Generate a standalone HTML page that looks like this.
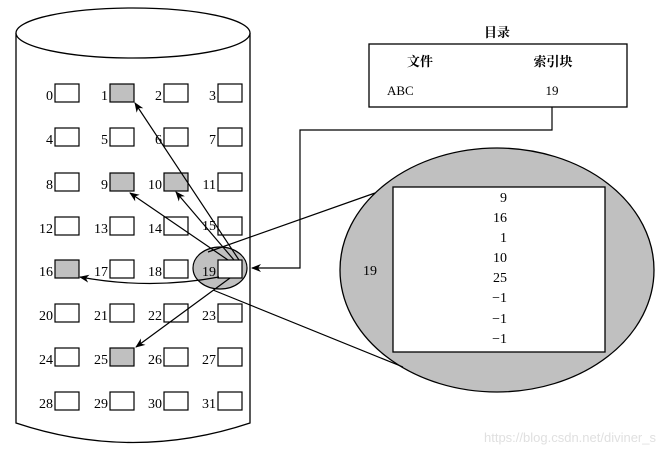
<!DOCTYPE html>
<html><head><meta charset="utf-8"><style>body{margin:0;background:#fff}svg{display:block}text{font-family:"Liberation Serif","Noto Serif CJK SC",serif;font-size:14px;fill:#000}</style></head><body>
<svg width="666" height="455" viewBox="0 0 666 455">
<defs><marker id="a" markerWidth="10" markerHeight="8" refX="9" refY="4" orient="auto" markerUnits="userSpaceOnUse"><path d="M0,0 L10,4 L0,8 L3,4 z" fill="#000"/></marker></defs>
<g fill="none" stroke="#000" stroke-width="1.3">
<path d="M16,33 L16,423 Q133,462 250,423 L250,33"/>
<ellipse cx="133" cy="33" rx="117" ry="25" fill="#fff"/>
</g>
<g stroke="#000" stroke-width="1.2">
<rect x="55" y="84" width="24" height="18" fill="#fff"/><rect x="110" y="84" width="24" height="18" fill="#c0c0c0"/><rect x="164" y="84" width="24" height="18" fill="#fff"/><rect x="218" y="84" width="24" height="18" fill="#fff"/>
<rect x="55" y="128" width="24" height="18" fill="#fff"/><rect x="110" y="128" width="24" height="18" fill="#fff"/><rect x="164" y="128" width="24" height="18" fill="#fff"/><rect x="218" y="128" width="24" height="18" fill="#fff"/>
<rect x="55" y="173" width="24" height="18" fill="#fff"/><rect x="110" y="173" width="24" height="18" fill="#c0c0c0"/><rect x="164" y="173" width="24" height="18" fill="#c0c0c0"/><rect x="218" y="173" width="24" height="18" fill="#fff"/>
<rect x="55" y="217" width="24" height="18" fill="#fff"/><rect x="110" y="217" width="24" height="18" fill="#fff"/><rect x="164" y="217" width="24" height="18" fill="#fff"/><rect x="218" y="217" width="24" height="18" fill="#fff"/>
<ellipse cx="220" cy="268" rx="27" ry="21" fill="#c0c0c0"/>
<rect x="55" y="260" width="24" height="18" fill="#c0c0c0"/><rect x="110" y="260" width="24" height="18" fill="#fff"/><rect x="164" y="260" width="24" height="18" fill="#fff"/><rect x="218" y="260" width="24" height="18" fill="#fff"/>
<rect x="55" y="304" width="24" height="18" fill="#fff"/><rect x="110" y="304" width="24" height="18" fill="#fff"/><rect x="164" y="304" width="24" height="18" fill="#fff"/><rect x="218" y="304" width="24" height="18" fill="#fff"/>
<rect x="55" y="348" width="24" height="18" fill="#fff"/><rect x="110" y="348" width="24" height="18" fill="#c0c0c0"/><rect x="164" y="348" width="24" height="18" fill="#fff"/><rect x="218" y="348" width="24" height="18" fill="#fff"/>
<rect x="55" y="392" width="24" height="18" fill="#fff"/><rect x="110" y="392" width="24" height="18" fill="#fff"/><rect x="164" y="392" width="24" height="18" fill="#fff"/><rect x="218" y="392" width="24" height="18" fill="#fff"/>
</g>
<g text-anchor="end">
<text x="53" y="100">0</text><text x="108" y="100">1</text><text x="162" y="100">2</text><text x="216" y="100">3</text>
<text x="53" y="144">4</text><text x="108" y="144">5</text><text x="162" y="144">6</text><text x="216" y="144">7</text>
<text x="53" y="189">8</text><text x="108" y="189">9</text><text x="162" y="189">10</text><text x="216" y="189">11</text>
<text x="53" y="233">12</text><text x="108" y="233">13</text><text x="162" y="233">14</text><text x="216" y="230">15</text>
<text x="53" y="276">16</text><text x="108" y="276">17</text><text x="162" y="276">18</text><text x="216" y="276">19</text>
<text x="53" y="320">20</text><text x="108" y="320">21</text><text x="162" y="320">22</text><text x="216" y="320">23</text>
<text x="53" y="364">24</text><text x="108" y="364">25</text><text x="162" y="364">26</text><text x="216" y="364">27</text>
<text x="53" y="408">28</text><text x="108" y="408">29</text><text x="162" y="408">30</text><text x="216" y="408">31</text>
</g>
<ellipse cx="497" cy="270" rx="157" ry="122" fill="#c0c0c0" stroke="#000" stroke-width="1.3"/>
<rect x="393" y="187" width="212" height="165" fill="#fff" stroke="#000" stroke-width="1.3"/>
<g fill="none" stroke="#000" stroke-width="1.2">
<line x1="375" y1="193" x2="208" y2="252"/>
<line x1="213" y1="290" x2="403" y2="367"/>
<line x1="239" y1="260" x2="135" y2="103" marker-end="url(#a)"/>
<line x1="234" y1="260" x2="176" y2="192" marker-end="url(#a)"/>
<line x1="228" y1="260" x2="130" y2="193" marker-end="url(#a)"/>
<path d="M219,277 Q150,290 80,277" marker-end="url(#a)"/>
<line x1="230" y1="278" x2="136" y2="347" marker-end="url(#a)"/>
<polyline points="552,107 552,130 300,130 300,268 252,268" marker-end="url(#a)"/>
<rect x="369" y="44" width="258" height="63" stroke-width="1.3"/>
</g>
<text x="497" y="37" text-anchor="middle" style="font-size:13px;font-weight:bold">目录</text>
<text x="407" y="66" style="font-size:13px;font-weight:bold">文件</text>
<text x="553" y="66" text-anchor="middle" style="font-size:13px;font-weight:bold">索引块</text>
<text x="387" y="95" style="font-size:13px">ABC</text>
<text x="552" y="95" text-anchor="middle" style="font-size:13px">19</text>
<text x="370" y="275" text-anchor="middle">19</text>
<g text-anchor="end" style="font-size:13px">
<text x="507" y="202">9</text><text x="507" y="222">16</text><text x="507" y="242">1</text><text x="507" y="262">10</text><text x="507" y="282">25</text><text x="507" y="302">−1</text><text x="507" y="323">−1</text><text x="507" y="343">−1</text>
</g>
<text x="656" y="442" text-anchor="end" style="font-family:'Liberation Sans',sans-serif;font-size:13px;fill:#e0e0e0">https://blog.csdn.net/diviner_s</text>
</svg>
</body></html>
